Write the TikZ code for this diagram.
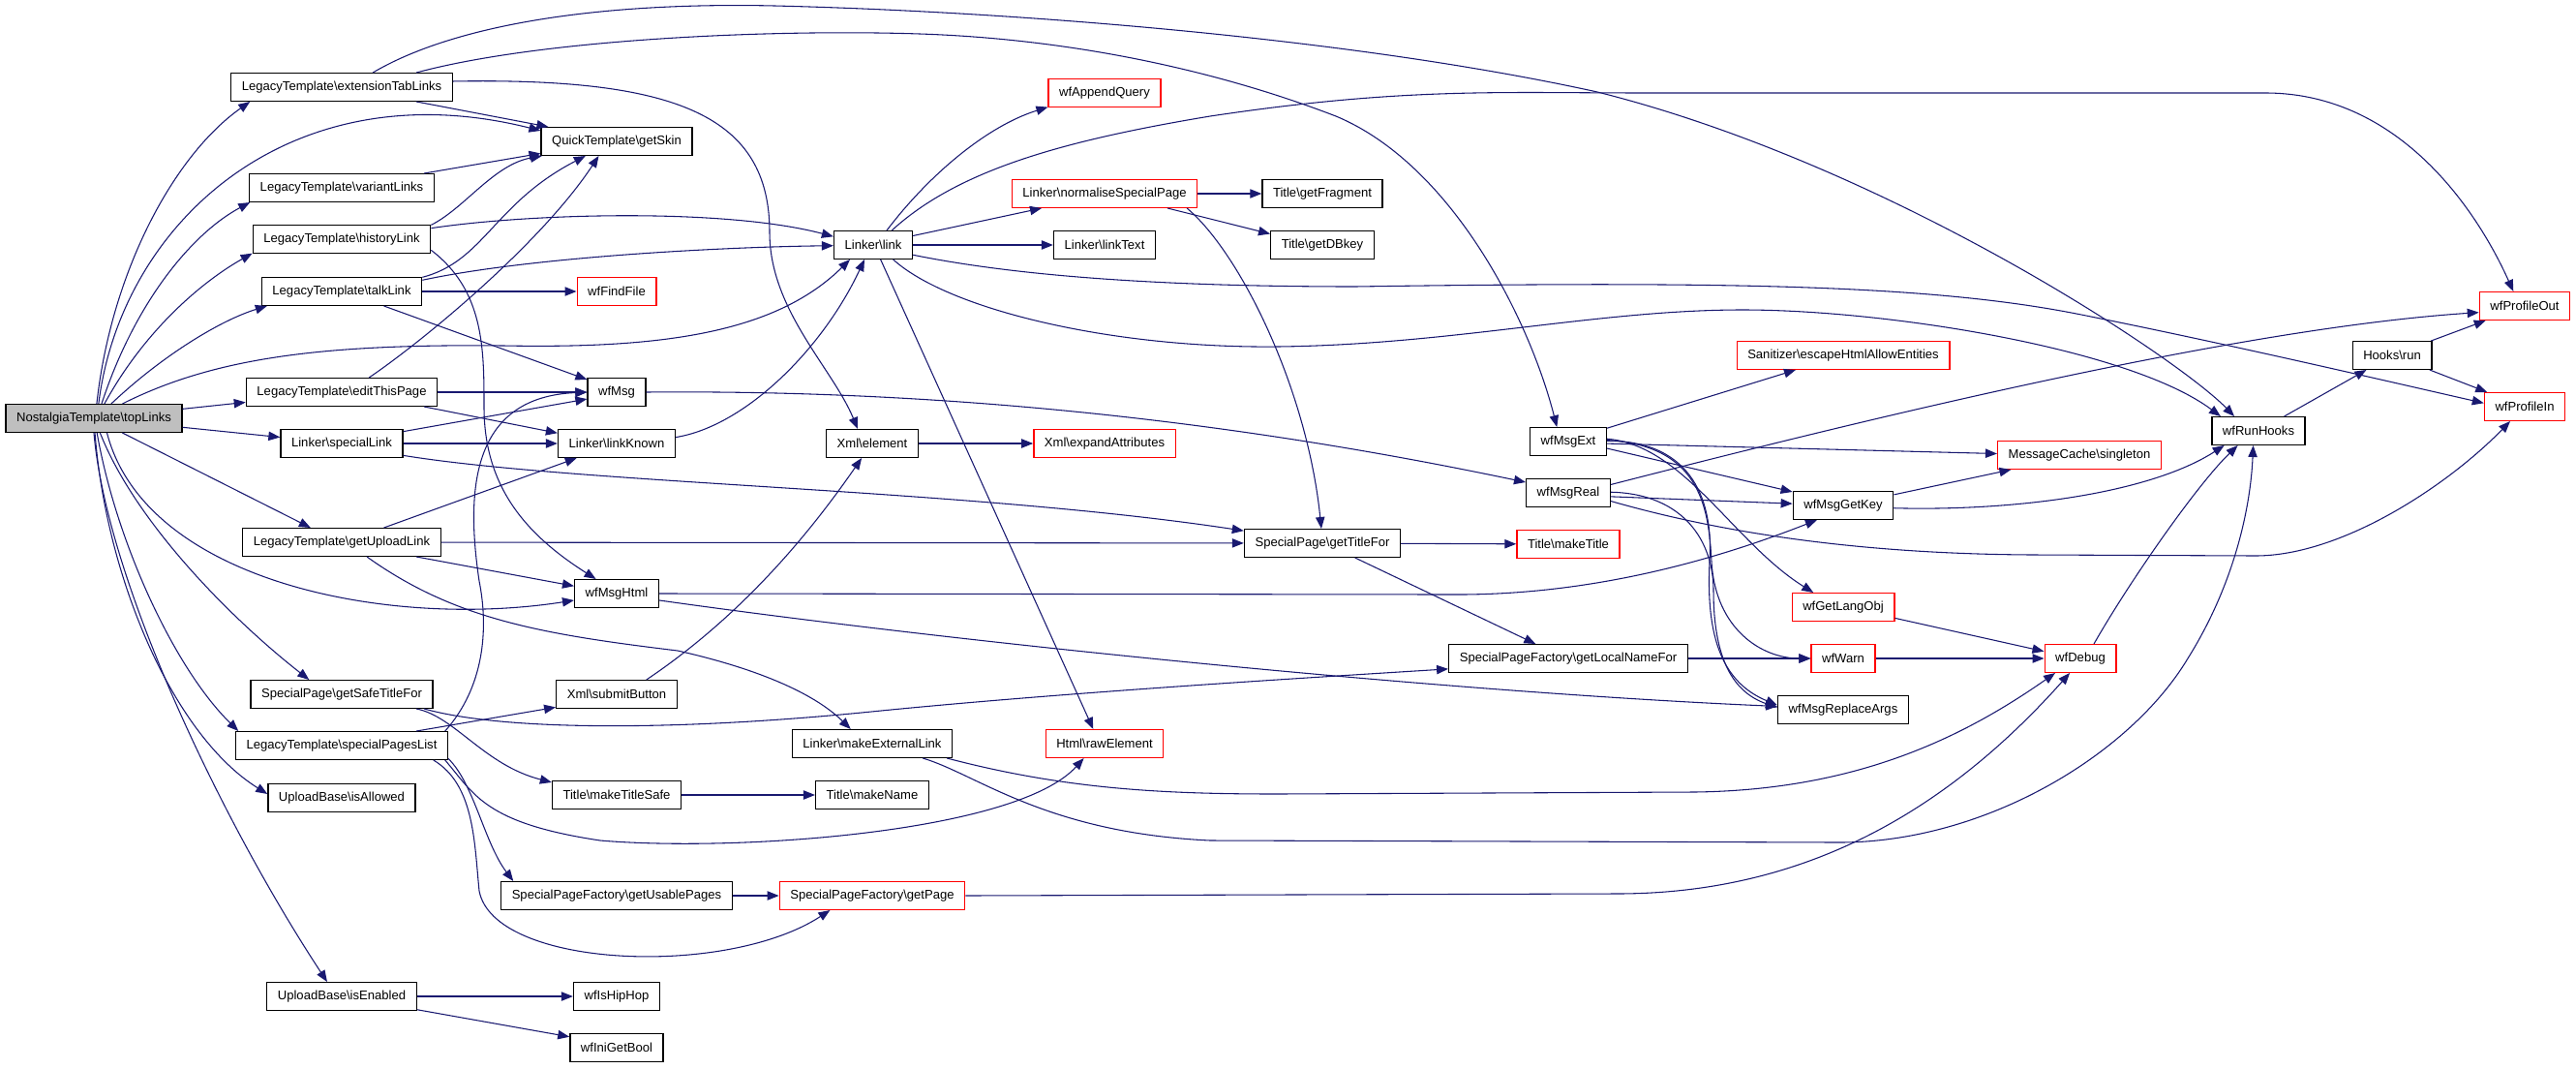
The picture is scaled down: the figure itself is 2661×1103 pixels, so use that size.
\documentclass[tikz,border=0pt]{standalone}
\usepackage{fontspec}
\setmainfont{Liberation Sans}
\usetikzlibrary{arrows.meta}
\definecolor{edgeblue}{RGB}{25,25,112}
\newcommand{\bsl}{\textbackslash}
\tikzstyle{fn}=[
        draw=black,
        line width=1pt,
        fill=white,
        minimum height=21.5pt,
        inner xsep=8.3pt,
        inner ysep=0pt,
        font=\fontsize{9.8}{11}\selectfont
]
\tikzstyle{fnred}=[fn, draw=red]
\tikzstyle{fnroot}=[fn, fill=black!25]
\tikzstyle{call}=[
        draw=edgeblue,
        line width=0.8pt,
        -{Triangle[length=9pt,width=7pt]}
]
\begin{document}
\begin{tikzpicture}[x=0.75pt,y=-0.75pt]
                        \useasboundingbox (0,0) rectangle (2661,1103);

                        \node[fnroot] (topLinks) at (97,432) {NostalgiaTemplate\bsl topLinks};

                        \node[fn] (extTab) at (353,90) {LegacyTemplate\bsl extensionTabLinks};
                        \node[fn] (variant) at (353,194) {LegacyTemplate\bsl variantLinks};
                        \node[fn] (history) at (353,247) {LegacyTemplate\bsl historyLink};
                        \node[fn] (talk) at (353,301) {LegacyTemplate\bsl talkLink};
                        \node[fn] (edit) at (353,405) {LegacyTemplate\bsl editThisPage};
                        \node[fn] (specialLink) at (353,458) {Linker\bsl specialLink};
                        \node[fn] (uploadLink) at (353,560) {LegacyTemplate\bsl getUploadLink};
                        \node[fn] (safeTitle) at (353,717) {SpecialPage\bsl getSafeTitleFor};
                        \node[fn] (pagesList) at (353,770) {LegacyTemplate\bsl specialPagesList};
                        \node[fn] (isAllowed) at (353,824) {UploadBase\bsl isAllowed};
                        \node[fn] (isEnabled) at (353,1029) {UploadBase\bsl isEnabled};

                        \node[fn] (getSkin) at (637,146) {QuickTemplate\bsl getSkin};
                        \node[fnred] (findFile) at (637,301) {wfFindFile};
                        \node[fn] (wfMsg) at (637,405) {wfMsg};
                        \node[fn] (linkKnown) at (637,458) {Linker\bsl linkKnown};
                        \node[fn] (msgHtml) at (637,613) {wfMsgHtml};
                        \node[fn] (submit) at (637,717) {Xml\bsl submitButton};
                        \node[fn] (titleSafe) at (637,821) {Title\bsl makeTitleSafe};
                        \node[fn] (usable) at (637,925) {SpecialPageFactory\bsl getUsablePages};
                        \node[fn] (hipHop) at (637,1029) {wfIsHipHop};
                        \node[fn] (iniBool) at (637,1082) {wfIniGetBool};

                        \node[fn] (link) at (902,253) {Linker\bsl link};
                        \node[fn] (xmlElement) at (901,458) {Xml\bsl element};
                        \node[fn] (extLink) at (901,768) {Linker\bsl makeExternalLink};
                        \node[fn] (makeName) at (901,821) {Title\bsl makeName};
                        \node[fnred] (getPage) at (901,925) {SpecialPageFactory\bsl getPage};

                        \node[fnred] (appendQuery) at (1141,96) {wfAppendQuery};
                        \node[fnred] (normalise) at (1141,200) {Linker\bsl normaliseSpecialPage};
                        \node[fn] (linkText) at (1141,253) {Linker\bsl linkText};
                        \node[fnred] (expandAttr) at (1141,458) {Xml\bsl expandAttributes};
                        \node[fnred] (rawElement) at (1141,768) {Html\bsl rawElement};

                        \node[fn] (fragment) at (1366,200) {Title\bsl getFragment};
                        \node[fn] (dbkey) at (1366,253) {Title\bsl getDBkey};
                        \node[fn] (titleFor) at (1366,561) {SpecialPage\bsl getTitleFor};

                        \node[fn] (msgExt) at (1620,456) {wfMsgExt};
                        \node[fn] (msgReal) at (1620,509) {wfMsgReal};
                        \node[fnred] (makeTitle) at (1620,562) {Title\bsl makeTitle};
                        \node[fn] (localName) at (1620,680) {SpecialPageFactory\bsl getLocalNameFor};

                        \node[fnred] (sanitizer) at (1904,367) {Sanitizer\bsl escapeHtmlAllowEntities};
                        \node[fn] (msgGetKey) at (1904,522) {wfMsgGetKey};
                        \node[fnred] (langObj) at (1904,627) {wfGetLangObj};
                        \node[fnred] (warn) at (1904,680) {wfWarn};
                        \node[fn] (replaceArgs) at (1904,733) {wfMsgReplaceArgs};

                        \node[fnred] (msgCache) at (2148,470) {MessageCache\bsl singleton};
                        \node[fnred] (debug) at (2149,680) {wfDebug};
                        \node[fn] (runHooks) at (2333,445) {wfRunHooks};
                        \node[fn] (hooksRun) at (2471,367) {Hooks\bsl run};
                        \node[fnred] (profileOut) at (2608,316) {wfProfileOut};
                        \node[fnred] (profileIn) at (2608,420) {wfProfileIn};

                        \foreach \a/\b in {topLinks/edit, topLinks/specialLink, talk/findFile,
                            edit/wfMsg, specialLink/linkKnown, uploadLink/titleFor,
                            isEnabled/hipHop, titleSafe/makeName, usable/getPage,
                            link/linkText, normalise/fragment, xmlElement/expandAttr,
                            titleFor/makeTitle, localName/warn, warn/debug,
                            runHooks/hooksRun, hooksRun/profileOut, hooksRun/profileIn} {
                            \draw[call] (\a) -- (\b);
                        }

                        \draw[call] (topLinks.79) .. controls (115,280) and (180,160) .. (extTab.189);
                        \draw[call] (topLinks.72) .. controls (125,230) and (300,70) .. (getSkin.172);
                        \draw[call] (topLinks.62) .. controls (140,310) and (200,240) .. (variant.189);
                        \draw[call] (topLinks.54) .. controls (150,340) and (210,290) .. (history.189);
                        \draw[call] (topLinks.40) .. controls (170,365) and (230,330) .. (talk.191);
                        \draw[call] (topLinks.27) .. controls (220,370) and (330,355) .. (520,357)
                            .. controls (680,360) and (800,345) .. (link.212);
                        \draw[call] (topLinks.-27) -- (uploadLink.155);
                        \draw[call] (topLinks.-48) .. controls (150,600) and (400,650) .. (msgHtml.189);
                        \draw[call] (topLinks.-67) .. controls (140,540) and (240,640) .. (safeTitle.156);
                        \draw[call] (topLinks.-78) .. controls (120,560) and (180,690) .. (pagesList.172);
                        \draw[call] (topLinks.-86) .. controls (110,600) and (180,760) .. (isAllowed.177);
                        \draw[call] (topLinks.-90) .. controls (110,600) and (230,850) .. (isEnabled.135);

                        \draw[call] (extTab.-11) -- (getSkin.168);
                        \draw[call] (extTab.25) .. controls (470,25) and (620,2) .. (800,6)
                            .. controls (1050,12) and (1400,40) .. (1650,95)
                            .. controls (1950,170) and (2250,370) .. (runHooks.149);
                        \draw[call] (extTab.11) .. controls (560,40) and (800,30) .. (950,35)
                            .. controls (1100,40) and (1250,70) .. (1380,120)
                            .. controls (1500,170) and (1580,330) .. (msgExt.128);
                        \draw[call] (extTab.3) .. controls (700,80) and (795,120) .. (795,240)
                            .. controls (795,320) and (860,380) .. (xmlElement.135);

                        \draw[call] (variant.10) -- (getSkin.189);
                        \draw[call] (history.9) .. controls (480,215) and (510,170) .. (getSkin.191);
                        \draw[call] (history.7) .. controls (550,220) and (750,215) .. (link.168);
                        \draw[call] (history.-7) .. controls (500,300) and (500,360) .. (500,420)
                            .. controls (500,500) and (540,550) .. (msgHtml.145);
                        \draw[call] (talk.10) .. controls (500,270) and (510,210) .. (getSkin.205);
                        \draw[call] (talk.8) .. controls (550,265) and (750,255) .. (link.181);
                        \draw[call] (talk.-19) -- (wfMsg.157);
                        \draw[call] (edit.28) .. controls (440,350) and (560,250) .. (getSkin.219);
                        \draw[call] (edit.-10) -- (linkKnown.170);
                        \draw[call] (specialLink.11) -- (wfMsg.193);
                        \draw[call] (specialLink.-11) .. controls (600,500) and (1000,505) .. (titleFor.171);
                        \draw[call] (linkKnown.6) .. controls (770,440) and (850,360) .. (link.239);
                        \draw[call] (uploadLink.19) -- (linkKnown.200);
                        \draw[call] (uploadLink.-11) -- (msgHtml.170);
                        \draw[call] (uploadLink.-30) .. controls (470,640) and (560,655) .. (700,672)
                            .. controls (780,690) and (840,715) .. (extLink.146);

                        \draw[call] (msgHtml.0) -- (1500,614) .. controls (1650,615) and (1780,575) .. (msgGetKey.209);
                        \draw[call] (msgHtml.-9) .. controls (1000,665) and (1500,715) .. (replaceArgs.177);
                        \draw[call] (safeTitle.-11) .. controls (470,740) and (500,790) .. (titleSafe.169);
                        \draw[call] (safeTitle.-10) .. controls (520,755) and (700,755) .. (900,735)
                            .. controls (1100,715) and (1350,700) .. (localName.185);
                        \draw[call] (pagesList.11) -- (submit.192);
                        \draw[call] (pagesList.8) .. controls (500,710) and (505,650) .. (495,600)
                            .. controls (480,500) and (490,410) .. (wfMsg.180);
                        \draw[call] (pagesList.-8) .. controls (490,820) and (500,850) .. (620,868)
                            .. controls (760,880) and (1050,860) .. (rawElement.215);
                        \draw[call] (pagesList.-7) .. controls (490,810) and (500,870) .. (usable.172);
                        \draw[call] (pagesList.-9) .. controls (490,810) and (490,870) .. (495,920)
                            .. controls (510,1000) and (750,1010) .. (getPage.199);
                        \draw[call] (submit.26) .. controls (760,640) and (830,560) .. (xmlElement.234);
                        \draw[call] (isEnabled.-10) -- (iniBool.167);

                        \draw[call] (getPage.0) -- (1670,923) .. controls (1850,923) and (2000,850) .. (debug.234);
                        \draw[call] (extLink.-11) .. controls (1100,815) and (1200,820) .. (1320,820) -- (1750,818)
                            .. controls (1920,816) and (2030,760) .. (debug.210);
                        \draw[call] (extLink.-16) .. controls (1010,800) and (1080,860) .. (1250,868) -- (1900,870)
                            .. controls (2050,870) and (2200,780) .. (2260,680)
                            .. controls (2310,600) and (2325,520) .. (runHooks.250);

                        \draw[call] (link.38) .. controls (990,175) and (1100,145) .. (1250,120)
                            .. controls (1450,90) and (1550,96) .. (1700,96) -- (2340,96)
                            .. controls (2480,96) and (2560,220) .. (profileOut.128);
                        \draw[call] (link.-14) .. controls (1050,285) and (1200,296) .. (1400,296)
                            .. controls (1800,290) and (2000,295) .. (2150,325)
                            .. controls (2300,355) and (2450,390) .. (profileIn.175);
                        \draw[call] (link.-36) .. controls (980,320) and (1150,360) .. (1320,358)
                            .. controls (1500,356) and (1650,320) .. (1800,320)
                            .. controls (1950,320) and (2200,360) .. (runHooks.159);
                        \draw[call] (link.47) .. controls (960,180) and (1020,130) .. (appendQuery.194);
                        \draw[call] (link.13) -- (normalise.193);
                        \draw[call] (link.-63) -- (rawElement.128);
                        \draw[call] (normalise.-13) -- (dbkey.168);
                        \draw[call] (normalise.-10) .. controls (1280,260) and (1350,400) .. (titleFor.94);
                        \draw[call] (wfMsg.0) .. controls (1000,402) and (1300,440) .. (msgReal.166);
                        \draw[call] (titleFor.-24) -- (localName.156);

                        \draw[call] (msgExt.19) -- (sanitizer.197);
                        \draw[call] (msgExt.-3) -- (msgCache.179);
                        \draw[call] (msgExt.-10) -- (msgGetKey.165);
                        \draw[call] (msgExt.4) .. controls (1740,460) and (1790,560) .. (langObj.154);
                        \draw[call] (msgExt.2) .. controls (1760,460) and (1765,530) .. (1768,580)
                            .. controls (1772,650) and (1820,680) .. (warn.180);
                        \draw[call] (msgExt.1) .. controls (1750,455) and (1770,520) .. (1766,580)
                            .. controls (1762,660) and (1780,705) .. (replaceArgs.176);
                        \draw[call] (msgReal.1) .. controls (1740,510) and (1770,560) .. (1770,610)
                            .. controls (1770,680) and (1790,715) .. (replaceArgs.178);
                        \draw[call] (msgReal.11) .. controls (1900,440) and (2300,340) .. (profileOut.188);
                        \draw[call] (msgReal.-5) -- (msgGetKey.178);
                        \draw[call] (msgReal.-11) .. controls (1760,545) and (1900,572) .. (2100,573) -- (2330,574)
                            .. controls (2420,574) and (2530,500) .. (profileIn.225);

                        \draw[call] (msgGetKey.12) -- (msgCache.192);
                        \draw[call] (msgGetKey.-3) .. controls (2080,528) and (2220,510) .. (runHooks.203);
                        \draw[call] (langObj.-12) -- (debug.169);
                        \draw[call] (debug.47) .. controls (2200,600) and (2270,500) .. (runHooks.215);

                    \end{tikzpicture}
\end{document}
